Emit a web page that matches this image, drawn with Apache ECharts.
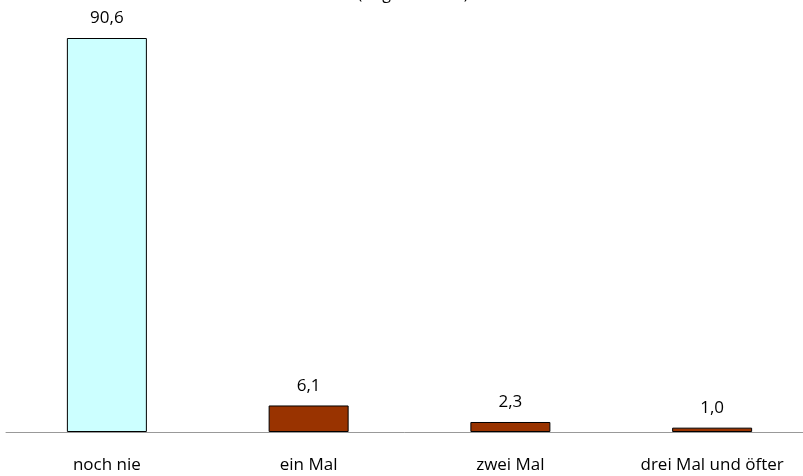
<!DOCTYPE html>
<html><head><meta charset="utf-8">
<script src="https://cdn.jsdelivr.net/npm/echarts@6/dist/echarts.min.js"></script>
<style>html,body{margin:0;padding:0;background:#fff}#c{width:803px;height:476px}</style>
</head><body><div id="c"></div>
<script>
const categories = ['noch nie', 'ein Mal', 'zwei Mal', 'drei Mal und öfter'];
const values = [90.6, 6.1, 2.3, 1.0];
const colors = ['#CCFFFF', '#993300', '#993300', '#993300'];
const titleText = '(Angaben in %)';

const chart = echarts.init(document.getElementById('c'));
chart.setOption({
  animation: false,
  title: { text: titleText, left: 408, top: -19, textAlign: 'center',
    textStyle: { fontFamily: 'Open Sans', fontSize: 16, fontWeight: 'normal', color: '#000' } },
  grid: { left: 6, width: 807, top: 38, bottom: 44, containLabel: false, outerBoundsMode: 'none' },
  xAxis: { type: 'category', data: categories,
    axisLine: { lineStyle: { color: '#999', width: 1 } },
    axisTick: { show: false },
    axisLabel: { margin: 25, fontFamily: 'Open Sans', fontSize: 17, color: '#000' } },
  yAxis: { type: 'value', min: 0, max: 90.6, show: false, splitLine: { show: false } },
  series: [{ type: 'bar', barWidth: 80,
    data: values.map((v, i) => ({ value: v, itemStyle: { color: colors[i] } })),
    itemStyle: { borderColor: '#000', borderWidth: 1 },
    label: { show: true, position: 'top', distance: 11, fontFamily: 'Open Sans', fontSize: 17, color: '#000',
      formatter: p => p.value.toFixed(1).replace('.', ',') } }]
});
</script></body></html>
